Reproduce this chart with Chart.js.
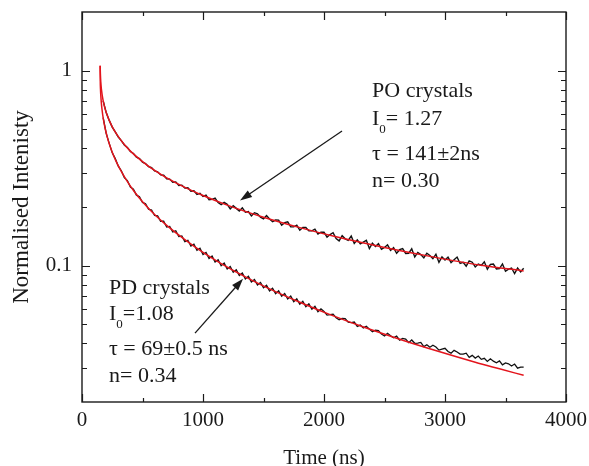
<!DOCTYPE html>
<html>
<head>
<meta charset="utf-8">
<title>Normalised intensity decay</title>
<script src="https://cdn.jsdelivr.net/npm/chart.js@4.4.0/dist/chart.umd.min.js"></script>
<style>
  html, body { margin: 0; padding: 0; background: #fff; }
  #wrap { width: 589px; height: 466px; }
</style>
</head>
<body>
<div id="wrap"><canvas id="decayChart" width="589" height="466"></canvas></div>
<script>
// measured decay (black), sampled every 25 ns from 175 ns
const blackTimes = Array.from({ length: 140 }, (_, i) => 175 + i * 25);

const poData = [
  0.70, 0.61, 0.556, 0.514, 0.486, 0.457, 0.438, 0.416, 0.404,
  0.385, 0.376, 0.360, 0.354, 0.340, 0.334, 0.322, 0.318, 0.306, 0.303,
  0.292, 0.291, 0.279, 0.278, 0.268, 0.269, 0.258, 0.259, 0.250, 0.251,
  0.241, 0.242, 0.232, 0.235,
  0.2264, 0.2298, 0.2176, 0.2188, 0.2223, 0.2108, 0.2058, 0.2113, 0.2065, 0.1957,
  0.2031, 0.1968, 0.1906, 0.1980, 0.1880, 0.1896, 0.1799, 0.1870, 0.1847, 0.1774,
  0.1737, 0.1806, 0.1734, 0.1682, 0.1715, 0.1714, 0.1613, 0.1662, 0.1679, 0.1582,
  0.1582, 0.1615, 0.1521, 0.1569, 0.1569, 0.1509, 0.1510, 0.1541, 0.1453, 0.1485,
  0.1486, 0.1401, 0.1445, 0.1476, 0.1379, 0.1340, 0.1426, 0.1373, 0.1348, 0.1419,
  0.1301, 0.1357, 0.1294, 0.1322, 0.1350, 0.1224, 0.1305, 0.1256, 0.1298, 0.1213,
  0.1241, 0.1280, 0.1198, 0.1237, 0.1157, 0.1208, 0.1224, 0.1156, 0.1159, 0.1221,
  0.1109, 0.1170, 0.1140, 0.1098, 0.1159, 0.1128, 0.1088, 0.1146, 0.1040, 0.1110,
  0.1070, 0.1106, 0.1036, 0.1072, 0.1107, 0.1027, 0.1041, 0.0994, 0.1059, 0.1042,
  0.0986, 0.1020, 0.1003, 0.1047, 0.0960, 0.1015, 0.1019, 0.0963, 0.0967, 0.1021,
  0.0937, 0.0960, 0.0973, 0.0911, 0.0972, 0.0930, 0.0971
];

const pdData = [
  0.574, 0.477, 0.424, 0.379, 0.354, 0.324, 0.307, 0.283, 0.273,
  0.253, 0.247, 0.230, 0.226, 0.211, 0.208, 0.195, 0.193, 0.181, 0.180,
  0.169, 0.169, 0.158, 0.159, 0.149, 0.151, 0.141, 0.142, 0.133, 0.135,
  0.126, 0.129, 0.120, 0.123, 0.114, 0.117, 0.109, 0.112, 0.1045, 0.1072,
  0.1000, 0.1031, 0.0962, 0.0991, 0.0925, 0.0952, 0.0890, 0.0917, 0.0855, 0.0882,
  0.0826, 0.0850, 0.0797, 0.0821, 0.0770, 0.0793, 0.0743, 0.0767, 0.0719, 0.0743,
  0.0697, 0.0720, 0.0675, 0.0698, 0.0654, 0.0676, 0.0634, 0.0656, 0.0616, 0.0637,
  0.0598, 0.0619, 0.0581, 0.0601,
  0.0583, 0.0558, 0.0561, 0.0564, 0.0541, 0.0528, 0.0537, 0.0536, 0.0513, 0.0511,
  0.0514, 0.0488, 0.0496, 0.0480, 0.0489, 0.0473, 0.0458, 0.0467, 0.0465, 0.0446,
  0.0436, 0.0450, 0.0437, 0.0427, 0.0436, 0.0415, 0.0424, 0.0420, 0.0403, 0.0416,
  0.0400, 0.0401, 0.0404, 0.0385, 0.0393, 0.0382, 0.0391, 0.0383, 0.0369, 0.0373,
  0.0377, 0.0363, 0.0356, 0.0368, 0.0361, 0.0352, 0.0352, 0.0356, 0.0339, 0.0347,
  0.0336, 0.0344, 0.0331, 0.0335, 0.0323, 0.0333, 0.0324, 0.0318, 0.0325, 0.0310,
  0.0317, 0.0314, 0.0306, 0.0313, 0.0298, 0.0302, 0.0302
];

// stretched-exponential fits (red)
const poFitTime = [150, 152, 155, 160, 175, 200, 250, 300, 350, 400, 500, 600, 700, 850, 1000, 1200, 1500, 1800, 2100, 2500, 2900, 3300, 3650];
const poFit = [1.06, 0.961, 0.88, 0.808, 0.700, 0.610, 0.515, 0.459, 0.418, 0.387, 0.342, 0.308, 0.282, 0.252, 0.229, 0.2045, 0.1772, 0.1568, 0.1407, 0.1241, 0.111, 0.1005, 0.094];

const pdFitTime = [150, 151, 153, 155, 160, 165, 175, 190, 210, 230, 250, 280, 320, 370, 430, 500, 600, 700, 850, 1000, 1150, 1350, 1550, 1800, 2050, 2350, 2650, 2950, 3250, 3450, 3650];
const pdFit = [1.06, 0.882, 0.80, 0.754, 0.682, 0.636, 0.572, 0.51, 0.454, 0.413, 0.382, 0.345, 0.308, 0.273, 0.241, 0.213, 0.183, 0.161, 0.136, 0.117, 0.1025, 0.0876, 0.076, 0.0649, 0.0561, 0.0479, 0.0415, 0.0363, 0.032, 0.0296, 0.0274];

// axis ticks
const xTickLabels = [0, 1000, 2000, 3000, 4000];
const xMinorTicks = [500, 1500, 2500, 3500];
const yTickLabels = [0.1, 1];
const yMinorTicks = [0.03, 0.04, 0.05, 0.06, 0.07, 0.08, 0.09, 0.2, 0.3, 0.4, 0.5, 0.6, 0.7, 0.8, 0.9];

// annotation text
const poNote = ['PO crystals', ['I', '0', '= 1.27'], 'τ = 141±2ns', 'n= 0.30'];
const pdNote = ['PD crystals', ['I', '0', '=1.08'], 'τ = 69±0.5 ns', 'n= 0.34'];

const SERIF = "'Liberation Serif', 'Times New Roman', serif";
const RED = '#e3141c';
const INK = '#1a1a1a';

// where the notes and arrows sit, in data units
const poNoteAt = { x: 2397, y: [0.734, 0.527, 0.348, 0.252] };
const pdNoteAt = { x: 223, y: [0.0718, 0.0527, 0.0348, 0.0252] };
const poArrow = { from: [2149, 0.491], to: [1306, 0.216] };
const pdArrow = { from: [934, 0.0451], to: [1331, 0.0857] };

function toPoints(xs, ys) {
    return xs.map((x, i) => ({ x: x, y: ys[i] }));
}

function drawArrow(ctx, x0, y0, x1, y1) {
    const ang = Math.atan2(y1 - y0, x1 - x0);
    const head = 12, half = 4;
    const c = Math.cos(ang), s = Math.sin(ang);
    ctx.beginPath();
    ctx.moveTo(x0, y0);
    ctx.lineTo(x1 - head * 0.8 * c, y1 - head * 0.8 * s);
    ctx.stroke();
    ctx.beginPath();
    ctx.moveTo(x1, y1);
    ctx.lineTo(x1 - head * c + half * s, y1 - head * s - half * c);
    ctx.lineTo(x1 - head * c - half * s, y1 - head * s + half * c);
    ctx.closePath();
    ctx.fill();
}

function drawNote(ctx, lines, at, xs, ys) {
    const left = xs.getPixelForValue(at.x);
    lines.forEach((line, i) => {
        const base = ys.getPixelForValue(at.y[i]);
        ctx.font = '22px ' + SERIF;
        if (typeof line === 'string') {
            ctx.fillText(line, left, base);
            return;
        }
        // I with subscript 0
        let px = left;
        ctx.fillText(line[0], px, base);
        px += ctx.measureText(line[0]).width;
        ctx.font = '13px ' + SERIF;
        ctx.fillText(line[1], px, base + 8);
        px += ctx.measureText(line[1]).width;
        ctx.font = '22px ' + SERIF;
        ctx.fillText(line[2], px, base);
    });
}

const axisFrame = {
    id: 'axisFrame',
    afterDatasetsDraw(chart) {
        const { ctx, chartArea: a, scales: { x, y } } = chart;
        ctx.save();
        ctx.strokeStyle = INK;
        ctx.lineWidth = 1.4;
        ctx.strokeRect(a.left, a.top, a.right - a.left, a.bottom - a.top);

        ctx.lineWidth = 1.2;
        ctx.beginPath();
        const xTick = (v, len) => {
            const px = Math.round(x.getPixelForValue(v)) + 0.5;
            ctx.moveTo(px, a.bottom); ctx.lineTo(px, a.bottom - len);
            ctx.moveTo(px, a.top); ctx.lineTo(px, a.top + len);
        };
        const yTick = (v, len) => {
            const py = Math.round(y.getPixelForValue(v)) + 0.5;
            ctx.moveTo(a.left, py); ctx.lineTo(a.left + len, py);
            ctx.moveTo(a.right, py); ctx.lineTo(a.right - len, py);
        };
        xTickLabels.forEach(v => xTick(v, 8));
        xMinorTicks.forEach(v => xTick(v, 4));
        yTickLabels.forEach(v => yTick(v, 8));
        yMinorTicks.forEach(v => yTick(v, 5));
        ctx.stroke();

        // notes and arrows
        ctx.fillStyle = INK;
        ctx.strokeStyle = INK;
        ctx.lineWidth = 1.3;
        ctx.textBaseline = 'alphabetic';
        ctx.textAlign = 'left';
        drawNote(ctx, poNote, poNoteAt, x, y);
        drawNote(ctx, pdNote, pdNoteAt, x, y);
        [poArrow, pdArrow].forEach(ar => {
            drawArrow(ctx,
                x.getPixelForValue(ar.from[0]), y.getPixelForValue(ar.from[1]),
                x.getPixelForValue(ar.to[0]), y.getPixelForValue(ar.to[1]));
        });
        ctx.restore();
    }
};

const ctx = document.getElementById('decayChart');

new Chart(ctx, {
    type: 'scatter',
    data: {
        datasets: [
            {
                label: 'PO fit',
                data: toPoints(poFitTime, poFit),
                showLine: true,
                borderColor: RED,
                borderWidth: 1.5,
                pointRadius: 0,
                cubicInterpolationMode: 'monotone'
            },
            {
                label: 'PD fit',
                data: toPoints(pdFitTime, pdFit),
                showLine: true,
                borderColor: RED,
                borderWidth: 1.5,
                pointRadius: 0,
                cubicInterpolationMode: 'monotone'
            },
            {
                label: 'PO crystals',
                data: toPoints(blackTimes, poData),
                showLine: true,
                borderColor: '#111',
                borderWidth: 1.4,
                pointRadius: 0
            },
            {
                label: 'PD crystals',
                data: toPoints(blackTimes, pdData),
                showLine: true,
                borderColor: '#111',
                borderWidth: 1.3,
                pointRadius: 0
            }
        ]
    },
    options: {
        responsive: false,
        animation: false,
        devicePixelRatio: 1,
        layout: { padding: { left: 0, top: 12, right: 23, bottom: 0 } },
        plugins: {
            legend: { display: false },
            tooltip: { enabled: false }
        },
        scales: {
            x: {
                type: 'linear',
                min: 0,
                max: 4000,
                afterBuildTicks: s => { s.ticks = xTickLabels.map(v => ({ value: v })); },
                afterFit: s => {
                    s.height = 64;
                    s.paddingLeft = 0;
                    s.paddingRight = 0;
                },
                grid: { display: false, drawTicks: false },
                border: { display: false },
                ticks: {
                    color: INK,
                    font: { family: SERIF, size: 21 },
                    padding: 6,
                    maxRotation: 0,
                    autoSkip: false,
                    callback: v => String(v)
                },
                title: {
                    display: true,
                    text: 'Time (ns)',
                    color: INK,
                    font: { family: SERIF, size: 21, lineHeight: 0.9 },
                    padding: { top: 0, bottom: -2 }
                }
            },
            y: {
                type: 'logarithmic',
                min: 0.02,
                max: 2,
                afterBuildTicks: s => { s.ticks = yTickLabels.map(v => ({ value: v })); },
                afterFit: s => {
                    s.width = 82;
                    s.paddingTop = 0;
                    s.paddingBottom = 0;
                },
                grid: { display: false, drawTicks: false },
                border: { display: false },
                ticks: {
                    color: INK,
                    font: { family: SERIF, size: 21 },
                    padding: 10,
                    autoSkip: false,
                    callback: v => String(v)
                },
                title: {
                    display: true,
                    text: 'Normalised Intenisty',
                    color: INK,
                    font: { family: SERIF, size: 23 },
                    padding: { top: 8, bottom: 0 }
                }
            }
        }
    },
    plugins: [axisFrame]
});
</script>
</body>
</html>
